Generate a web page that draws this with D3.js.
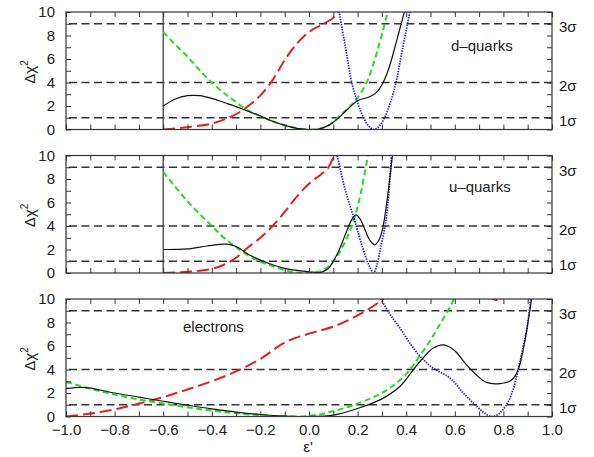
<!DOCTYPE html>
<html>
<head>
<meta charset="utf-8">
<script src="https://cdn.jsdelivr.net/npm/d3@7"></script>
<style>
  body { margin: 0; background: #fff; }
  svg { display: block; }
  text { font-family: "Liberation Sans", Arial, Helvetica, sans-serif; fill: #222; }
</style>
</head>
<body>
<div id="chart"></div>
<script>
// tick values / labels
const xTicks = [-1, -0.9, -0.8, -0.7, -0.6, -0.5, -0.4, -0.3, -0.2, -0.1, 0, 0.1, 0.2, 0.3, 0.4, 0.5, 0.6, 0.7, 0.8, 0.9, 1];
const xTickLabels = [-1, -0.8, -0.6, -0.4, -0.2, 0, 0.2, 0.4, 0.6, 0.8, 1];
const yTicks = [0, 1, 2, 3, 4, 5, 6, 7, 8, 9, 10];
const yTickLabels = [0, 2, 4, 6, 8, 10];
const sigmaLevels = [1, 4, 9];
const sigmaLabels = ['1σ', '2σ', '3σ'];
const panelNames = ['d–quarks', 'u–quarks', 'electrons'];

// d-quarks  [eps', delta chi^2]
const dBlack = [[-0.6,2.0],[-0.55,2.6],[-0.5,2.88],[-0.45,2.88],[-0.4,2.65],[-0.35,2.3],[-0.3,1.95],[-0.25,1.55],[-0.2,1.15],[-0.15,0.7],[-0.1,0.35],[-0.05,0.1],[0,0.0],[0.04,0.03],[0.08,0.35],[0.12,0.95],[0.16,1.75],[0.2,2.45],[0.25,2.78],[0.28,3.2],[0.305,4.0],[0.33,5.3],[0.36,7.5],[0.395,10.2]];
const dGreen = [[-0.6,8.3],[-0.55,7.2],[-0.5,6.2],[-0.45,5.05],[-0.4,4.0],[-0.35,3.1],[-0.3,2.33],[-0.25,1.6],[-0.2,1.15],[-0.15,0.7],[-0.1,0.38],[-0.05,0.1],[0,0.0],[0.04,0.05],[0.08,0.34],[0.128,1.2],[0.17,2.0],[0.196,2.6],[0.237,4.0],[0.28,6.6],[0.326,10.2]];
const dRed = [[-0.6,0],[-0.5,0.2],[-0.4,0.5],[-0.35,0.85],[-0.3,1.3],[-0.25,2.0],[-0.2,2.9],[-0.15,4.2],[-0.1,5.9],[-0.05,7.3],[0,8.3],[0.05,8.9],[0.1,9.5],[0.125,10.2]];
const dBlue = [[0.12,10.5],[0.15,7.0],[0.176,4.0],[0.2,2.3],[0.22,1.2],[0.245,0.3],[0.267,0],[0.29,0.3],[0.315,1.2],[0.335,2.3],[0.358,4.0],[0.385,6.9],[0.42,10.5]];

// u-quarks
const uBlack = [[-0.6,2.0],[-0.5,2.05],[-0.42,2.3],[-0.34,2.45],[-0.3,2.25],[-0.25,1.6],[-0.2,1.1],[-0.15,0.7],[-0.1,0.4],[-0.05,0.22],[0,0.1],[0.05,0.05],[0.08,0.4],[0.1,1.0],[0.125,2.0],[0.15,3.3],[0.175,4.5],[0.193,4.95],[0.21,4.6],[0.23,3.7],[0.25,2.8],[0.27,2.4],[0.29,2.9],[0.306,4.1],[0.32,6.0],[0.335,8.5],[0.345,10.3]];
const uGreen = [[-0.6,8.6],[-0.5,6.1],[-0.4,4.0],[-0.35,3.0],[-0.3,2.2],[-0.25,1.5],[-0.2,0.95],[-0.16,0.65],[-0.1,0.25],[-0.05,0.05],[0,0.0],[0.04,0.1],[0.07,0.4],[0.1,0.96],[0.14,2.3],[0.176,4.0],[0.21,6.5],[0.244,10.2]];
const uRed = [[-0.6,0],[-0.5,0.1],[-0.4,0.35],[-0.35,0.7],[-0.3,1.3],[-0.25,2.2],[-0.2,3.0],[-0.15,4.0],[-0.1,5.2],[-0.05,6.5],[0,7.6],[0.05,8.4],[0.08,9.0],[0.107,10.2]];
const uBlue = [[0.114,10.2],[0.15,7.0],[0.183,4.8],[0.2,3.6],[0.22,2.2],[0.24,1.0],[0.255,0.3],[0.265,0],[0.28,0.7],[0.295,2.2],[0.313,4.0],[0.325,6.0],[0.34,10.2]];

// electrons
const eBlack = [[-1.0,2.37],[-0.94,2.48],[-0.9,2.42],[-0.8,2.0],[-0.7,1.65],[-0.6,1.3],[-0.5,0.96],[-0.4,0.65],[-0.3,0.38],[-0.2,0.17],[-0.1,0.04],[0,0.0],[0.1,0.12],[0.2,0.68],[0.3,1.5],[0.375,2.57],[0.43,4.0],[0.47,5.0],[0.51,5.8],[0.553,6.1],[0.6,5.6],[0.64,4.6],[0.676,3.8],[0.73,2.9],[0.786,2.8],[0.834,3.1],[0.861,4.0],[0.889,6.5],[0.91,9.2],[0.92,10.5]];
const eGreen = [[-1.0,2.94],[-0.9,2.37],[-0.8,1.86],[-0.7,1.45],[-0.6,1.1],[-0.5,0.78],[-0.4,0.5],[-0.3,0.28],[-0.2,0.1],[-0.1,0.02],[0,0.05],[0.1,0.45],[0.2,1.1],[0.3,2.0],[0.375,3.1],[0.416,4.0],[0.457,5.2],[0.5,6.5],[0.54,7.9],[0.58,9.3],[0.6,10.2]];
const eRed = [[-1.0,0],[-0.9,0.25],[-0.8,0.6],[-0.7,1.1],[-0.6,1.65],[-0.5,2.3],[-0.4,3.0],[-0.3,3.84],[-0.2,4.9],[-0.1,6.3],[0,7.05],[0.1,7.65],[0.2,8.6],[0.3,9.9],[0.32,10.3]];
const eRedDip = [[0.735,10.4],[0.77,9.92],[0.805,10.4]];
const eBlue = [[0.29,10.2],[0.33,8.8],[0.375,7.5],[0.42,6.1],[0.464,4.97],[0.512,4.1],[0.58,3.28],[0.635,2.0],[0.69,0.87],[0.725,0.25],[0.752,0],[0.78,0.2],[0.813,1.0],[0.84,2.3],[0.861,4.0],[0.88,5.8],[0.896,7.4],[0.914,10.2]];

const panels = [
    { name: panelNames[0], labelX: 451, labelY: 51, cut: -0.6,
      curves: [['red', dRed], ['green', dGreen], ['blue', dBlue], ['black', dBlack]] },
    { name: panelNames[1], labelX: 449, labelY: 192, cut: -0.6,
      curves: [['red', uRed], ['green', uGreen], ['blue', uBlue], ['black', uBlack]] },
    { name: panelNames[2], labelX: 183, labelY: 332, cut: null,
      curves: [['red', eRed], ['red', eRedDip], ['green', eGreen], ['blue', eBlue], ['black', eBlack]] }
];

const styles = {
    black: { stroke: '#111', width: 1.2, dash: null },
    green: { stroke: '#22dd22', width: 2, dash: '6,3.5' },
    red:   { stroke: '#e61e1e', width: 2, dash: '12,5' },
    blue:  { stroke: '#1e1ee0', width: 1.8, dash: '1.4,1.2' }
};

const W = 594, H = 457;
const panelTops = [12, 155.5, 299];
const panelH = 117.5;
const frameColor = '#333';

const x = d3.scaleLinear().domain([-1, 1]).range([66, 552]);
const fmt = d3.format('.1f');

const svg = d3.select('#chart').append('svg')
    .attr('width', W)
    .attr('height', H);

panels.forEach((p, i) => {
    const top = panelTops[i];
    const y = d3.scaleLinear().domain([0, 10]).range([top + panelH, top]);
    const g = svg.append('g');

    g.append('clipPath').attr('id', 'clip' + i)
        .append('rect')
        .attr('x', x(-1)).attr('y', top)
        .attr('width', x(1) - x(-1)).attr('height', panelH);

    // sigma reference lines
    g.append('g').selectAll('line')
        .data(sigmaLevels)
        .enter().append('line')
        .attr('x1', x(-1)).attr('x2', x(1))
        .attr('y1', d => y(d)).attr('y2', d => y(d))
        .attr('stroke', frameColor)
        .attr('stroke-width', 1.3)
        .attr('stroke-dasharray', '8,4.5')
        .attr('stroke-dashoffset', -3);

    g.append('g').selectAll('text')
        .data(sigmaLevels)
        .enter().append('text')
        .attr('x', 559)
        .attr('y', d => y(d) + 8.5)
        .style('font-size', '15px')
        .text((d, k) => sigmaLabels[k]);

    // lower bound of the allowed range
    if (p.cut !== null) {
        g.append('line')
            .attr('x1', x(p.cut)).attr('x2', x(p.cut))
            .attr('y1', y(0)).attr('y2', y(10))
            .attr('stroke', frameColor)
            .attr('stroke-width', 1.2);
    }

    const line = d3.line()
        .x(d => x(d[0]))
        .y(d => y(d[1]))
        .curve(d3.curveCatmullRom.alpha(0.5));

    const curves = g.append('g').attr('clip-path', `url(#clip${i})`);
    p.curves.forEach(([key, data]) => {
        const s = styles[key];
        curves.append('path')
            .datum(data)
            .attr('d', line)
            .attr('fill', 'none')
            .attr('stroke', s.stroke)
            .attr('stroke-width', s.width)
            .attr('stroke-dasharray', s.dash);
    });

    // axes, ticks pointing inward
    const bottom = g.append('g')
        .attr('transform', `translate(0,${y(0)})`)
        .call(d3.axisBottom(x).tickValues(xTicks).tickSizeInner(-5).tickSizeOuter(0).tickPadding(8)
            .tickFormat(d => (i === 2 && xTickLabels.includes(d)) ? fmt(d) : ''));
    g.append('g')
        .attr('transform', `translate(0,${y(10)})`)
        .call(d3.axisTop(x).tickValues(xTicks).tickSizeInner(-5).tickSizeOuter(0).tickFormat(''));
    const left = g.append('g')
        .attr('transform', `translate(${x(-1)},0)`)
        .call(d3.axisLeft(y).tickValues(yTicks).tickSizeInner(-5).tickSizeOuter(0).tickPadding(11)
            .tickFormat(d => yTickLabels.includes(d) ? d : ''));
    g.append('g')
        .attr('transform', `translate(${x(1)},0)`)
        .call(d3.axisRight(y).tickValues(yTicks).tickSizeInner(-5).tickSizeOuter(0).tickFormat(''));

    g.selectAll('.domain').remove();
    g.selectAll('.tick line').attr('stroke', frameColor).attr('stroke-width', 1);
    [bottom, left].forEach(a => a.selectAll('text')
        .attr('fill', '#222')
        .style('font-size', '15px')
        .style('font-family', '"Liberation Sans", Arial, Helvetica, sans-serif'));

    g.append('rect')
        .attr('x', x(-1)).attr('y', y(10))
        .attr('width', x(1) - x(-1)).attr('height', y(0) - y(10))
        .attr('fill', 'none')
        .attr('stroke', frameColor)
        .attr('stroke-width', 1.2);

    g.append('text')
        .attr('x', p.labelX)
        .attr('y', p.labelY)
        .style('font-size', '15px')
        .text(p.name);

    // y title
    const yt = g.append('text')
        .attr('transform', `translate(35,${top + 60}) rotate(-90)`)
        .attr('text-anchor', 'middle')
        .style('font-size', '15px');
    yt.append('tspan').text('Δχ');
    yt.append('tspan').attr('dy', -7).style('font-size', '10px').text('2');
});

svg.append('text')
    .attr('x', 308)
    .attr('y', 452)
    .attr('text-anchor', 'middle')
    .style('font-size', '15px')
    .text("ε'");
</script>
</body>
</html>
